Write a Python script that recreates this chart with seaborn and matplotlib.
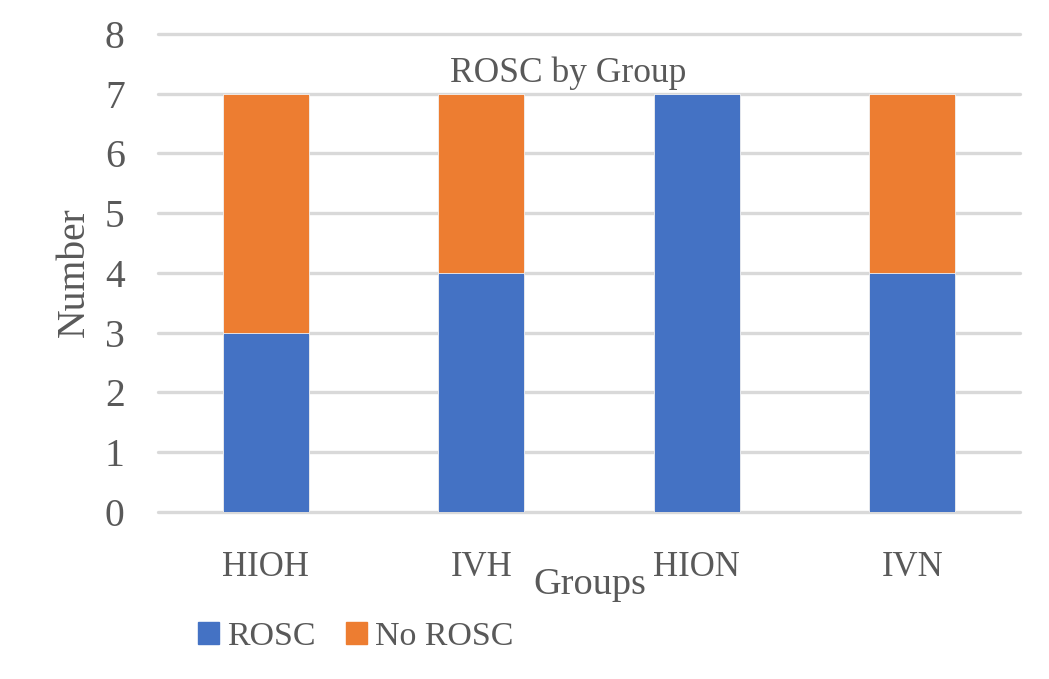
import matplotlib
matplotlib.use("Agg")
import matplotlib.pyplot as plt
import seaborn as sns
import pandas as pd
from matplotlib.patches import Patch

groups = ["HIOH", "IVH", "HION", "IVN"]
rosc = [3, 4, 7, 4]
no_rosc = [4, 3, 0, 3]
yticks = [0, 1, 2, 3, 4, 5, 6, 7, 8]

sns.set_theme(style="white")
plt.rcParams['font.family'] = ['Liberation Serif', 'DejaVu Serif']

BLUE = "#4472C4"
ORANGE = "#ED7D31"
TXT = "#595959"

df = pd.DataFrame({"Group": groups, "ROSC": rosc, "No ROSC": no_rosc})
df["Total"] = df["ROSC"] + df["No ROSC"]

fig = plt.figure(figsize=(10.49, 6.79), dpi=100)
ax = fig.add_axes([0.1506, 0.246, 0.8218, 0.704])

sns.barplot(data=df, x="Group", y="Total", color=ORANGE, width=0.4, ax=ax,
            saturation=1, zorder=3, edgecolor="#f2f2f2", linewidth=0.6)
sns.barplot(data=df, x="Group", y="ROSC", color=BLUE, width=0.4, ax=ax,
            saturation=1, zorder=4, edgecolor="#f2f2f2", linewidth=0.6)

ax.set_ylim(0, 8)
ax.set_xlim(-0.5, 3.5)
ax.set_yticks(yticks)
ax.yaxis.grid(True, color="#D9D9D9", linewidth=2.4, zorder=0)
for gl in ax.get_ygridlines():
    gl.set_clip_on(False)
ax.set_axisbelow(True)
for s in ax.spines.values():
    s.set_visible(False)
ax.tick_params(axis="both", length=0, colors=TXT)
ax.tick_params(axis="x", labelsize=25, pad=28)
ax.tick_params(axis="y", labelsize=28.5, pad=24)
ax.set_xlabel("")
ax.set_ylabel("Number", fontsize=28.5, color=TXT)
ax.yaxis.set_label_coords(-0.076, 0.502)

fig.text(568 / 1049, 1 - 73 / 679, "ROSC by Group", ha="center", va="center",
         fontsize=25.5, color=TXT)
fig.text(590 / 1049, 1 - 585 / 679, "Groups", ha="center", va="center",
         fontsize=27.5, color=TXT)

handles = [Patch(color=BLUE, label="ROSC"), Patch(color=ORANGE, label="No ROSC")]
fig.legend(handles=handles, loc="center", bbox_to_anchor=(356 / 1049, 1 - 637 / 679),
           ncol=2, frameon=False, fontsize=24.5, labelcolor=TXT,
           handlelength=0.6, handleheight=0.6, handletextpad=0.25, columnspacing=0.9)

fig.savefig("out.png", dpi=100)
